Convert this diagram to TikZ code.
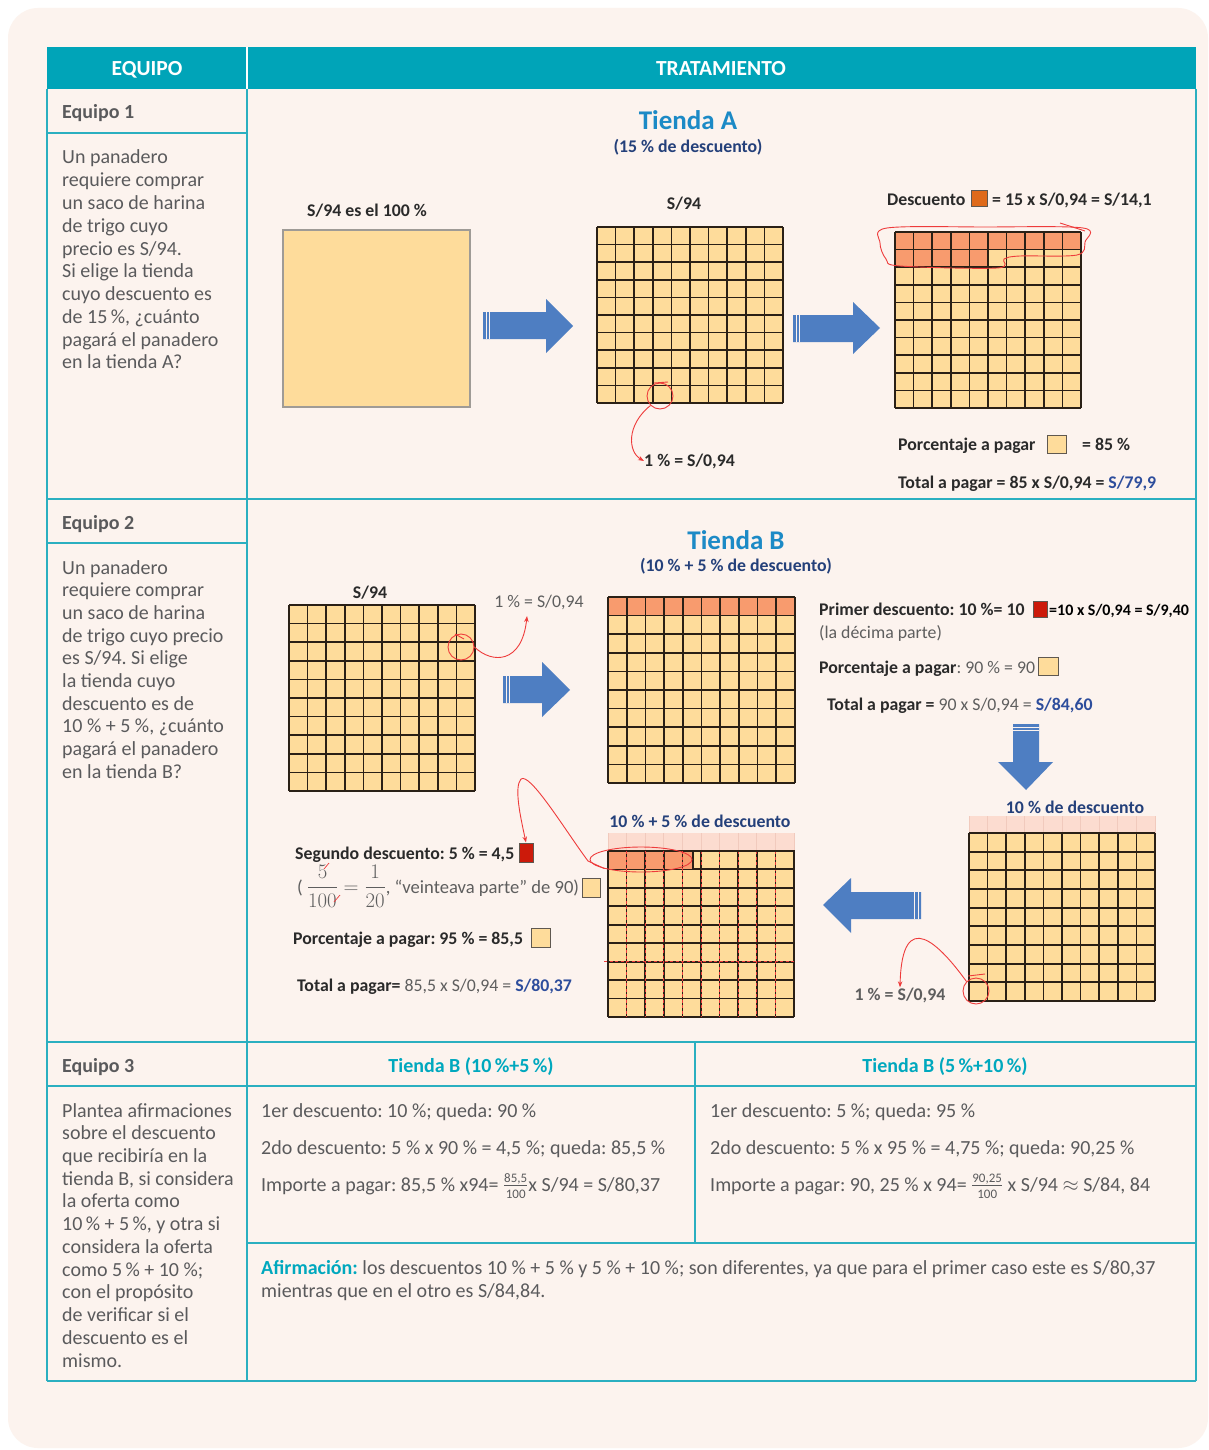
\documentclass[tikz,border=0pt]{standalone}
\usepackage{fontspec}
\setmainfont{Carlito}
\usepackage{amsmath}
\usetikzlibrary{arrows.meta,shapes.geometric}
\frenchspacing
\definecolor{pagebg}{HTML}{FCF3EE}
\definecolor{headteal}{HTML}{00A4B8}
\definecolor{lineteal}{HTML}{2BAFC0}
\definecolor{txtgray}{HTML}{5A5A5C}
\definecolor{tealtxt}{HTML}{00A8BE}
\definecolor{titleblue}{HTML}{1C8AC6}
\definecolor{navy}{HTML}{24407A}
\definecolor{navyb}{HTML}{2D4D9C}
\definecolor{darktx}{HTML}{2A2A2A}
\definecolor{dgray}{HTML}{5E5E5E}
\definecolor{arrowblue}{HTML}{4E7EC2}
\definecolor{cellyel}{HTML}{FEDC9B}
\definecolor{cellorg}{HTML}{F89B6E}
\definecolor{discorg}{HTML}{DF6A1A}
\definecolor{sqred}{HTML}{CC1A0A}
\definecolor{palerow}{HTML}{FCDCD0}
\definecolor{palel}{HTML}{F1CABD}
\definecolor{pen}{HTML}{EE3B3B}
\definecolor{gline}{HTML}{2A2016}
\newcommand{\mygridlines}[6]{%
  \foreach \gi in {0,...,#5}{\draw[gridline] ({#1+(#3-#1)*\gi/#5},#2) -- ({#1+(#3-#1)*\gi/#5},#4);}
  \foreach \gj in {0,...,#6}{\draw[gridline] (#1,{#2+(#4-#2)*\gj/#6}) -- (#3,{#2+(#4-#2)*\gj/#6});}
}
\newcommand{\mypalelines}[4]{%
  \foreach \gi in {0,...,10}{\draw[draw=palel, line width=0.8pt] ({#1+(#3-#1)*\gi/10},#2) -- ({#1+(#3-#1)*\gi/10},#4);}
}
\tikzset{
  tline/.style={draw=lineteal, line width=1.3pt},
  gridline/.style={draw=gline, line width=1.7pt},
  body/.style={font=\fontsize{20}{23}\selectfont, text=txtgray, anchor=base west, inner sep=0pt},
  lbl/.style={font=\fontsize{20}{23}\selectfont\bfseries, text=txtgray, anchor=base west, inner sep=0pt},
  hdr/.style={font=\fontsize{21.5}{24}\selectfont\bfseries, text=white, anchor=base, inner sep=0pt},
  thdr/.style={font=\fontsize{20}{23}\selectfont\bfseries, text=tealtxt, anchor=base, inner sep=0pt},
  dtxt/.style={font=\fontsize{17.8}{20}\selectfont\bfseries, text=darktx, inner sep=0pt},
  dreg/.style={font=\fontsize{17.8}{20}\selectfont, text=dgray, inner sep=0pt},
  ttl/.style={font=\fontsize{27}{30}\selectfont\bfseries, text=titleblue, anchor=base, inner sep=0pt},
  pencil/.style={draw=pen, line width=0.9pt},
  penarrow/.style={pencil, -{Stealth[length=6pt,width=4.5pt]}},
  pcirc/.style={draw=pen, line width=0.9pt, circle, minimum size=26pt, inner sep=0pt},
  sqbox/.style={draw=gline!75, line width=1pt, inner sep=0pt},
  stripe/.style={draw=pagebg, line width=0.9pt}
}
\begin{document}
\begin{tikzpicture}[x=1pt,y=-1pt]
\useasboundingbox (0,0) rectangle (1208,1450);
\fill[white] (0,0) rectangle (1208,1450);
\fill[pagebg, rounded corners=30pt] (8,8) rectangle (1208,1448);

% ---------- table ----------
\fill[headteal] (47,47) rectangle (1196,89);
\draw[white, line width=1.5pt] (247,47) -- (247,89);
\node[hdr] (hEq) at (147,75.5) {EQUIPO};
\node[hdr] (hTr) at (721,75.5) {TRATAMIENTO};

\draw[tline] (47,89) -- (47,1381);
\draw[tline] (1196,89) -- (1196,1381);
\draw[tline] (247,89) -- (247,1381);
\draw[tline, line width=2pt] (47,1381) -- (1196,1381);
\draw[tline] (47,133) -- (247,133);
\draw[tline] (47,499) -- (1196,499);
\draw[tline] (47,543) -- (247,543);
\draw[tline] (47,1042) -- (1196,1042);
\draw[tline] (47,1086) -- (1196,1086);
\draw[tline] (247,1243) -- (1196,1243);
\draw[tline] (695,1042) -- (695,1243);

\node[lbl] (eq1) at (62,119) {Equipo 1};
\node[lbl] (eq2) at (62,529) {Equipo 2};
\node[lbl] (eq3) at (62,1072) {Equipo 3};

\foreach \t [count=\k from 0] in {Un panadero, requiere comprar, un saco de harina, de trigo cuyo, precio es S/94., Si elige la tienda, cuyo descuento es, {de 15\,\%, ¿cuánto}, pagará el panadero, en la tienda A?}
  \node[body] (ea\k) at (62,{164+22.75*\k}) {\t};
\foreach \t [count=\k from 0] in {Un panadero, requiere comprar, un saco de harina, de trigo cuyo precio, es S/94. Si elige, la tienda cuyo, descuento es de, {10 \% + 5 \%, ¿cuánto}, pagará el panadero, en la tienda B?}
  \node[body] (eb\k) at (62,{574+22.7*\k}) {\t};
\foreach \t [count=\k from 0] in {Plantea afirmaciones, sobre el descuento, que recibiría en la, {tienda B, si considera}, la oferta como, {10\,\% + 5\,\%, y otra si}, considera la oferta, como 5\,\% + 10 \%;, con el propósito, de verificar si el, descuento es el, mismo.}
  \node[body] (ec\k) at (62,{1117+22.73*\k}) {\t};

% row 3 right
\node[thdr] (t3a) at (471,1072) {Tienda B (10\,\%+5\,\%)};
\node[thdr] (t3b) at (945,1072) {Tienda B (5\,\%+10\,\%)};
\node[body] (r1a) at (261,1117) {1er descuento: 10 \%; queda: 90 \%};
\node[body] (r1b) at (261,1154) {2do descuento: 5 \% x 90 \% = 4,5 \%; queda: 85,5 \%};
\node[body] (r1c) at (261,1191) {Importe a pagar: 85,5 \% x94= $\frac{\text{\fontsize{13}{13}\selectfont 85,5}}{\text{\fontsize{13}{13}\selectfont 100}}$x S/94 = S/80,37};
\node[body] (r2a) at (710,1117) {1er descuento: 5 \%; queda: 95 \%};
\node[body] (r2b) at (710,1154) {2do descuento: 5 \% x 95 \% = 4,75 \%; queda: 90,25 \%};
\node[body] (r2c) at (710,1191) {Importe a pagar: 90, 25 \% x 94= $\frac{\text{\fontsize{13}{13}\selectfont 90,25}}{\text{\fontsize{13}{13}\selectfont 100}}$ x S/94 $\approx$ S/84, 84};
\node[body] (af1) at (261,1274) {\textcolor{tealtxt}{\bfseries Afirmación:} los descuentos 10 \% + 5 \% y 5 \% + 10 \%; son diferentes, ya que para el primer caso este es S/80,37};
\node[body] (af2) at (261,1297) {mientras que en el otro es S/84,84.};

% ---------- Tienda A ----------
\node[ttl] (tA) at (688,130) {Tienda A};
\node[dtxt, text=navy, anchor=base] (tAs) at (688,153) {(15 \% de descuento)};
\node[dtxt, anchor=base] (l100) at (367,216) {S/94 es el 100 \%};
\fill[cellyel] (283,230) rectangle (470,407);
\draw[gline!45, line width=1.4pt] (283,230) rectangle (470,407);

% arrow 1
\fill[arrowblue] (483,312) -- (546,312) -- (546,299) -- (573,326) -- (546,353) -- (546,339) -- (483,339) -- cycle;
\draw[stripe] (486,312) -- (486,339) (489.5,312) -- (489.5,339);

% grid 1
\node[dtxt, anchor=base] (g1l) at (684,210) {S/94};
\fill[cellyel] (597,227) rectangle (783,403);
\mygridlines{597}{227}{783}{403}{10}{10}
\node[pcirc] (c1) at (660,396) {};
\node[dtxt, anchor=base west] (n1pA) at (644,466) {1 \% = S/0,94};
\draw[penarrow] (c1.south west) .. controls (626,425) and (628,452) .. (n1pA.west);
\draw[pencil] (654,383) -- (668,382);

% arrow 2
\fill[arrowblue] (793,315) -- (853,315) -- (853,302) -- (880,328) -- (853,354) -- (853,342) -- (793,342) -- cycle;
\draw[stripe] (796,315) -- (796,342) (799.5,315) -- (799.5,342);

% grid 2
\node[dtxt, anchor=base west] (dsc) at (887,205) {Descuento};
\node[sqbox, fill=discorg, minimum width=16pt, minimum height=15pt] (dsq) at (979,198.5) {};
\node[dtxt, anchor=base west] (dsc2) at (992,205) {= 15 x S/0,94 = S/14,1};
\fill[cellyel] (895,232) rectangle (1081,408);
\fill[cellorg] (895,232) rectangle (1081,249.6);
\fill[cellorg] (895,249.6) rectangle (988,267.2);
\mygridlines{895}{232}{1081}{408}{10}{10}
\draw[pencil] plot[smooth cycle, tension=0.55] coordinates {(1083,228) (985,227) (887,228) (880,243) (886,259) (900,266) (997,268) (1004,259) (1020,256) (1077,255) (1085,242)};
\draw[pencil] (1060,223) -- (1085,231);
\node[dtxt, anchor=base west] (pp1) at (898,450) {Porcentaje a pagar};
\node[sqbox, fill=cellyel, minimum width=19pt, minimum height=18pt] (psq1) at (1056.5,444) {};
\node[dtxt, anchor=base west] (pp1b) at (1082,450) {= 85 \%};
\node[dtxt, anchor=base west] (tp1) at (898,488) {Total a pagar = 85 x S/0,94 = \textcolor{navyb}{S/79,9}};

% ---------- Tienda B ----------
\node[ttl] (tB) at (736,549) {Tienda B};
\node[dtxt, text=navy, anchor=base] (tBs) at (736,571) {(10 \% + 5 \% de descuento)};

% grid 3
\node[dtxt, anchor=base] (g3l) at (370,598) {S/94};
\fill[cellyel] (289,605) rectangle (475,791);
\mygridlines{289}{605}{475}{791}{10}{10}
\node[pcirc] (c3) at (461,647) {};
\node[dreg, anchor=base] (n1pB) at (539,607) {1 \% = S/0,94};
\coordinate (a3end) at (527,616);
\draw[penarrow] (c3.east) .. controls (492,664) and (522,664) .. (a3end);
\draw[pencil] (455,634) -- (464,639);

% arrow 3
\fill[arrowblue] (503,676) -- (542,676) -- (542,662) -- (570,690) -- (542,717) -- (542,703) -- (503,703) -- cycle;
\draw[stripe] (506,676) -- (506,703) (509.5,676) -- (509.5,703);

% grid 4
\fill[cellyel] (608,597) rectangle (795,783);
\fill[cellorg] (608,597) rectangle (795,615.6);
\mygridlines{608}{597}{795}{783}{10}{10}

\node[dtxt, anchor=base west] (pd1) at (819,615) {Primer descuento: 10 \%= 10};
\node[sqbox, fill=sqred, minimum width=14pt, minimum height=16pt] (rsq1) at (1040,609) {};
\node[dtxt, text=black, font=\fontsize{16}{18}\selectfont\bfseries, anchor=base west] (pd2) at (1049,615) {=10 x S/0,94 = S/9,40};
\node[dreg, anchor=base west] (pd3) at (819,638) {(la décima parte)};
\node[dreg, anchor=base west] (pp2) at (819,673) {\textbf{\color{darktx}Porcentaje a pagar}: 90 \% = 90};
\node[sqbox, fill=cellyel, minimum width=20pt, minimum height=18pt] (psq2) at (1048,666) {};
\node[dreg, anchor=base west] (tp2) at (827,710) {\textbf{\color{darktx}Total a pagar =} 90 x S/0,94 = \textbf{\color{navyb}S/84,60}};

% down arrow
\fill[arrowblue] (1013,724) -- (1013,762) -- (998,762) -- (1026,790) -- (1053,762) -- (1039,762) -- (1039,724) -- cycle;
\draw[stripe] (1013,727) -- (1039,727) (1013,730.5) -- (1039,730.5);

% grid 5
\node[dtxt, text=navy, anchor=base] (g5l) at (1075,813) {10 \% de descuento};
\fill[palerow] (969,816) rectangle (1155,833);
\mypalelines{969}{816}{1155}{833}
\fill[cellyel] (969,833) rectangle (1155,1001);
\mygridlines{969}{833}{1155}{1001}{10}{9}
\node[pcirc] (c5) at (976,991) {};
\node[dreg, font=\fontsize{17.8}{20}\selectfont\bfseries, text=dgray, anchor=base] (n1pC) at (900,1000) {1 \% = S/0,94};
\draw[penarrow] (c5.north west) .. controls (940,945) and (902,905) .. (n1pC.north);
\draw[pencil] (968,976) -- (985,974);

% left arrow
\fill[arrowblue] (921,892) -- (851,892) -- (851,878) -- (823,905) -- (851,933) -- (851,919) -- (921,919) -- cycle;
\draw[stripe] (918,892) -- (918,919) (914.5,892) -- (914.5,919);

% grid 6
\node[dtxt, text=navy, anchor=base] (g6l) at (700,827) {10 \% + 5 \% de descuento};
\fill[palerow] (608,833) rectangle (794,851);
\mypalelines{608}{833}{794}{851}
\fill[cellyel] (608,851) rectangle (794,1017);
\fill[cellorg] (608,851) rectangle (692,869.4);
\mygridlines{608}{851}{794}{1017}{10}{9}
\foreach \gi in {1,...,9}{\draw[pen, line width=0.9pt, dash pattern=on 3pt off 2.5pt] ({608+18.6*\gi},851) -- ({608+18.6*\gi},1017);}
\draw[pen, line width=0.9pt, dash pattern=on 3pt off 2.5pt] (604,961.7) -- (796,961.7);
\draw[gline, line width=2pt] (692.5,851) rectangle (794,869.4);
\node[draw=pen, line width=0.9pt, ellipse, minimum width=102pt, minimum height=25pt, inner sep=0pt] (ell6) at (641,859.5) {};

% segundo descuento texts
\node[dtxt, anchor=base west] (sd1) at (295,859) {Segundo descuento: 5 \% = 4,5};
\node[sqbox, fill=sqred, minimum width=14pt, minimum height=19pt] (rsq2) at (526,852.5) {};
\node[dreg, font=\fontsize{18.6}{20}\selectfont, anchor=base west] (frl) at (297,893) {( {\fontsize{20}{20}\selectfont$\displaystyle\frac{5}{100}=\frac{1}{20}$}, “veinteava parte” de 90)};
\node[sqbox, fill=cellyel, minimum width=18pt, minimum height=19pt] (fsq) at (591,887.5) {};
\draw[pencil, line width=0.7pt] (324,869) -- (329,863);
\draw[pencil, line width=0.7pt] (334,902) -- (340,895);
\node[dtxt, anchor=base west] (pp3) at (293,944) {Porcentaje a pagar: 95 \% = 85,5};
\node[sqbox, fill=cellyel, minimum width=19pt, minimum height=19pt] (psq3) at (540.5,937.5) {};
\node[dreg, anchor=base west] (tp3) at (297,991) {\textbf{\color{darktx}Total a pagar=} 85,5 x S/0,94 = \textbf{\color{navyb}S/80,37}};

% red loop from first grid to second discount
\draw[penarrow] (ell6.south west) -- (588,861) .. controls (565,830) and (530,772) .. (521,779) .. controls (514,787) and (520,815) .. (rsq2.north);
\end{tikzpicture}
\end{document}
